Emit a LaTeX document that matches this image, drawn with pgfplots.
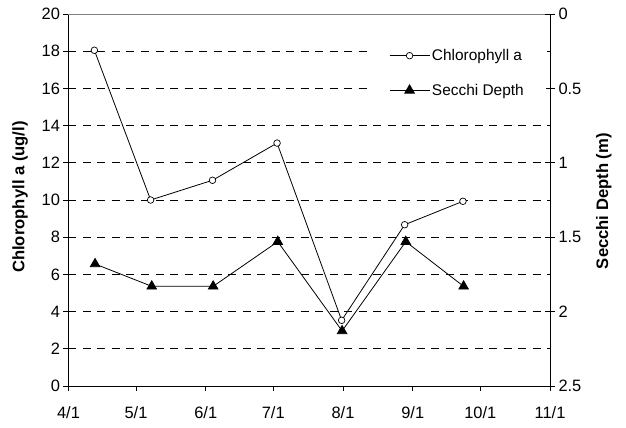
\documentclass[border=0pt]{standalone}
\usepackage{pgfplots}
\pgfplotsset{compat=1.18}
\usepackage{fontspec}
\setmainfont{Liberation Sans}
\pgfplotsset{
  chlstyle/.style={black, line width=0.8pt, mark=*, mark size=3.3bp, mark options={fill=white, solid, line width=0.7pt}},
  secstyle/.style={black, line width=0.8pt, mark=triangle*, mark size=5.5bp, mark options={fill=black, solid}},
}
\begin{document}
\begin{tikzpicture}
\useasboundingbox (-68.5bp,-42bp) rectangle (557.5bp,386bp);
\begin{axis}[
  at={(0,0)}, anchor=south west,
  scale only axis, width=481.5bp, height=372bp,
  xmin=0, xmax=214, ymin=0, ymax=20,
  axis x line*=bottom, axis y line*=left,
  axis line style={black, line width=0.8pt},
  xtick={0,30,61,91,122,153,183,214},
  xticklabels={4/1,5/1,6/1,7/1,8/1,9/1,10/1,11/1},
  xticklabel style={yshift=-12bp},
  ytick={0,2,...,20},
  ymajorgrids,
  major grid style={black, dash pattern=on 8bp off 6.5bp, line width=0.7pt},
  tick style={black, line width=0.8pt},
  tick align=outside, major tick length=5bp,
  font=\fontsize{16.5}{19}\selectfont,
  /pgf/number format/assume math mode=true,
  ylabel={\bfseries Chlorophyll a (ug/l)},
  ylabel style={at={(axis description cs:-0.1007,0.508)}, anchor=center, rotate=0, font=\fontsize{16.7}{19}\selectfont},
  clip=false,
]
\addplot[chlstyle] coordinates {
  (11.5,18.05) (36.5,10.0) (64,11.06) (92.7,13.06) (121.4,3.53) (149.4,8.67) (175.3,9.93)
};
\draw[gray, line width=0.8pt] (rel axis cs:0,1) -- (rel axis cs:1,1);
\end{axis}
\begin{axis}[
  at={(0,0)}, anchor=south west,
  scale only axis, width=481.5bp, height=372bp,
  xmin=0, xmax=214, ymin=0, ymax=2.5, y dir=reverse,
  axis x line=none, axis y line*=right,
  axis line style={black, line width=0.8pt},
  ytick={0,0.5,1,1.5,2,2.5},
  yticklabels={0,0.5,1,1.5,2,2.5},
  tick style={black, line width=0.8pt},
  tick align=center, major tick length=10bp,
  font=\fontsize{16.5}{19}\selectfont,
  /pgf/number format/assume math mode=true,
  ylabel={\bfseries Secchi Depth (m)},
  ylabel style={at={(axis description cs:1.112,0.497)}, anchor=center, rotate=0, font=\fontsize{16.7}{19}\selectfont},
  legend style={at={(rel axis cs:0.9917,0.927)}, anchor=north east, fill=white, draw=none,
    font=\fontsize{15.5}{18}\selectfont, row sep=18bp, inner xsep=20bp, inner ysep=6bp},
  legend cell align=left,
  legend image code/.code={\draw[mark repeat=2, mark phase=2, #1] plot coordinates {(0bp,0bp) (20bp,0bp) (40bp,0bp)};},
  clip=false,
]
\addlegendimage{chlstyle}
\addlegendentry{Chlorophyll a}
\addplot[secstyle] coordinates {
  (11.8,1.68) (37,1.83) (64.3,1.83) (93,1.53) (121.6,2.13) (149.9,1.53) (175.6,1.83)
};
\addlegendentry{Secchi Depth}
\end{axis}
\end{tikzpicture}
\end{document}
